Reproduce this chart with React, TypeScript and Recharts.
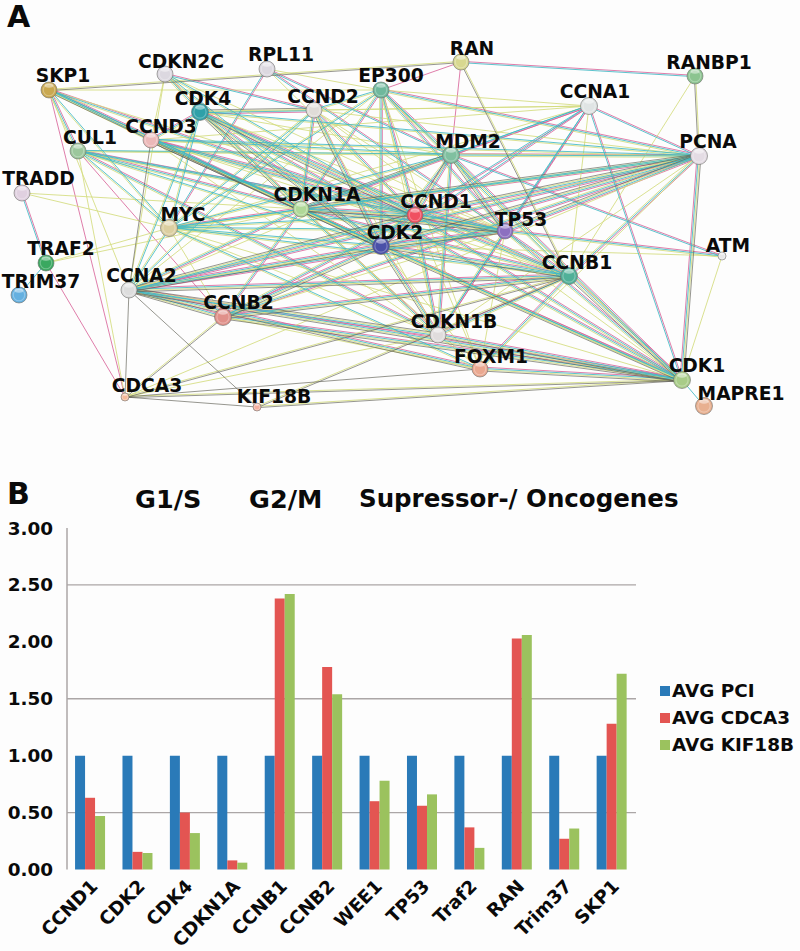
import React from 'react';
import {
  Bar, BarChart, CartesianGrid, ComposedChart, Legend, Line, Scatter, XAxis, YAxis,
} from 'recharts';

// Panel A: node positions
const nodeNames = ['SKP1', 'CDKN2C', 'RPL11', 'EP300', 'CDK4', 'CCND2', 'CCND3', 'CUL1', 'TRADD', 'CDKN1A', 'MYC', 'TRAF2', 'TRIM37', 'CCNA2', 'CCNB2', 'CDCA3', 'KIF18B', 'CDK2', 'RAN', 'RANBP1', 'CCNA1', 'MDM2', 'PCNA', 'CCND1', 'TP53', 'ATM', 'CCNB1', 'CDKN1B', 'FOXM1', 'CDK1', 'MAPRE1'];
const nodeX = [49, 165, 267, 381, 200, 314, 151, 78, 22, 301, 169, 46, 19, 129, 223, 125, 257, 381, 461, 695, 589, 451, 699, 415, 505, 722, 569, 438, 480, 682, 704];
const nodeY = [90, 74, 69, 90, 112, 110, 140, 151, 193, 209, 228, 263, 295, 290, 317, 397, 407, 246, 62, 76, 106, 155, 156, 215, 231, 256, 276, 335, 369, 380, 406];

const nodeColors = ['#c9a850', '#dcd8e0', '#dcd8e0', '#6fb89c', '#2fa0a8', '#e0dcd8', '#ecb8b8', '#9cc79c', '#e0d0e0', '#b0d898', '#dccfa0', '#3aa860', '#64b0e0', '#dddddd', '#e0908a', '#f5b898', '#f5b0a0', '#4a50a8', '#d8d890', '#8cc490', '#e0e4e4', '#80c0a0', '#e4dce4', '#f05060', '#8c70c0', '#e8e8e8', '#50b098', '#e0dcdc', '#eaa890', '#a8cc88', '#e8b090'];
const nodeRadius = [8, 8, 8, 8, 8.5, 8, 8, 8, 8, 8, 8.5, 8, 8, 8, 8.5, 4, 4, 8.5, 8, 8, 8.5, 8.5, 8.5, 8, 8, 4, 8.5, 8, 8, 8.5, 8.5];
// label centre and baseline
const labelX = [63, 181, 281, 391, 203, 323, 161, 90, 38.5, 317, 183, 61, 41, 141.5, 238.5, 147, 274, 395, 472, 709, 595, 468, 708, 436, 521, 728, 577, 454, 491, 697, 741];
const labelY = [82, 68, 61, 82, 105, 103, 133, 144, 185, 201, 221, 255, 288, 282, 309, 392, 403, 239, 55, 69, 98, 148, 148, 208, 226, 252, 269, 328, 363, 372, 400];

// Edges grouped by how many evidence strands they show
const heavyEdges = ['CCNA2-CDK2', 'CCNA2-CCNB1', 'CCNA2-CDK1', 'CCNA2-CCNB2', 'CCNB2-CDK1', 'CCNB2-CCNB1', 'CDK2-CCNB1', 'CCNB1-CDK1', 'CDK2-CDK1', 'PCNA-CDK2', 'PCNA-CCND1', 'PCNA-TP53', 'CDK4-CCND1', 'CDK4-CDK2', 'CDK4-CDKN1A', 'CCND3-CDK2', 'CCND3-CDKN1A', 'CDKN1A-CDK2', 'CDKN1A-CCND1', 'CDK2-CCND1', 'CDKN1A-TP53', 'MDM2-TP53', 'MDM2-CDKN1A', 'CCND2-CDK2', 'CCND2-CDK4', 'CDK2-CDKN1B', 'CDKN1B-CCNA2', 'CDKN1B-CDK1', 'CCNA2-FOXM1', 'FOXM1-CDK1', 'PCNA-CDKN1A', 'CDK1-PCNA', 'CCND1-CCNA2', 'CCNB2-CDK2', 'CDK2-TP53', 'CCND1-TP53', 'MDM2-CCND1', 'SKP1-CDKN1A'];
const mediumEdges = ['SKP1-CUL1', 'SKP1-CCND3', 'SKP1-CCND1', 'CUL1-CDKN1A', 'CUL1-CDKN1B', 'CUL1-CCND1', 'CDKN2C-CDK4', 'CDK4-CDK1', 'CDK4-CCNB1', 'CCND2-CDKN1A', 'CCND2-CCND1', 'CCND3-CDK4', 'CCND3-CCND1', 'CCND3-TP53', 'EP300-MDM2', 'EP300-TP53', 'EP300-CDKN1A', 'EP300-CCND1', 'EP300-CDK2', 'EP300-PCNA', 'MYC-CDKN1A', 'MDM2-CDK2', 'MDM2-CDKN1B', 'MDM2-PCNA', 'MDM2-CDK1', 'TP53-CCNB1', 'TP53-CDK1', 'TP53-CCNA2', 'TP53-CDKN1B', 'TP53-ATM', 'CCND1-CCNB1', 'CCND1-CDK1', 'CCND1-CDKN1B', 'CCND1-CCNB2', 'CDKN1A-CCNB1', 'CDKN1A-CDK1', 'CDKN1A-CDKN1B', 'CDKN1A-CCNA2', 'CDKN1A-CCNB2', 'CDKN1B-CCNB1', 'PCNA-CCNB1', 'PCNA-CCNA2', 'PCNA-CCNB2', 'FOXM1-CCNB1'];
const tealYellowEdges = ['SKP1-CDK2', 'SKP1-MYC', 'CUL1-MDM2', 'CUL1-TP53', 'CUL1-CDK2', 'CUL1-MYC', 'CDKN2C-CDK2', 'CDKN2C-CCND1', 'CDK4-MYC', 'CDK4-CCNA2', 'CDK4-PCNA', 'CCND2-MYC', 'CCND2-CCNA2', 'CCND2-EP300', 'CCND3-MDM2', 'CCND3-PCNA', 'EP300-MYC', 'EP300-CCNB1', 'MYC-CDK2', 'MYC-CCND1', 'MYC-TP53', 'MYC-MDM2', 'MYC-CCNA2', 'MYC-CCNB1', 'MYC-PCNA', 'MYC-FOXM1'];
const pinkTealEdges = ['TRADD-TRAF2', 'RAN-RANBP1', 'RPL11-MDM2', 'RPL11-TP53', 'RPL11-MYC', 'CCNA1-PCNA', 'CCNA1-CDK1', 'CCNA1-CDK2', 'CCNA1-CCND1', 'CCNA1-TP53', 'CCNA1-MDM2', 'CCNA1-CDKN1A', 'MDM2-ATM', 'CDKN2C-CCND2', 'CCNA1-CDKN1B'];
const yellowEdges = ['TRADD-MYC', 'TRAF2-MYC', 'TRAF2-CDKN1A', 'TRADD-CDKN1A', 'RPL11-CCND1', 'RPL11-EP300', 'CCNA1-CCND3', 'CCNA1-CDK4', 'CCNA1-CCND2', 'CCNA1-MYC', 'CCNA1-EP300', 'CCNA1-CCNB1', 'CDK2-ATM', 'ATM-CDK1', 'RANBP1-CCNB1', 'SKP1-EP300', 'CDKN1B-CDCA3', 'CUL1-PCNA', 'CDKN2C-CCND3', 'CDKN2C-CCNA2', 'SKP1-CCNA2', 'CUL1-CDCA3', 'SKP1-TP53', 'MYC-CCNB2', 'PCNA-CDCA3', 'CCND2-PCNA', 'CCND2-CDK1', 'EP300-FOXM1', 'EP300-CDK1', 'EP300-CDKN1B', 'EP300-CCNA2', 'MYC-CDK1', 'CDK4-CDKN1B', 'CCND3-CCNB1', 'CCND3-CDK1', 'CCND3-CDKN1B', 'TP53-FOXM1', 'TP53-CCNB2', 'CDKN2C-TP53', 'CDKN1B-PCNA', 'CCND1-FOXM1', 'MDM2-CCNB1', 'MDM2-CCNA2', 'PCNA-FOXM1', 'MYC-CDKN1B', 'CDKN2C-CDKN1A', 'CDKN1A-FOXM1', 'FOXM1-CDK2', 'CDKN1B-FOXM1', 'CCNB2-FOXM1', 'CCND2-CDKN1B', 'CCND2-TP53', 'CDK4-TP53', 'CDK4-MDM2'];
const darkYellowEdges = ['SKP1-RAN', 'RAN-CCNB1', 'RANBP1-PCNA', 'CDCA3-CCNB2', 'CDCA3-CCNB1', 'CDCA3-CDK1', 'KIF18B-CCNB1', 'KIF18B-CDK1'];
const darkEdges = ['CCND3-CCNA2', 'CCNA2-CDCA3', 'CCNA2-KIF18B', 'CDCA3-KIF18B', 'CDCA3-FOXM1'];
const pinkEdges = ['RAN-EP300', 'RAN-MDM2', 'SKP1-CDCA3', 'TRAF2-CDCA3', 'CUL1-CCNB2'];
const tealEdges = ['CDK1-MAPRE1', 'TRAF2-TRIM37'];

const strandGap = 1.3;
const strandColors: Record<string, string> = {
  pink: '#d9669b',
  yellow: '#d3dc7e',
  teal: '#3fb8c4',
  dark: '#5f5f55',
};

const edgeGroups: [string[], string[]][] = [
  [heavyEdges, ['pink', 'teal', 'yellow', 'dark']],
  [mediumEdges, ['pink', 'teal', 'yellow']],
  [tealYellowEdges, ['teal', 'yellow']],
  [pinkTealEdges, ['pink', 'teal']],
  [yellowEdges, ['yellow']],
  [darkYellowEdges, ['yellow', 'dark']],
  [darkEdges, ['dark']],
  [pinkEdges, ['pink']],
  [tealEdges, ['teal']],
];

// One path per strand colour, with a null point between edges to break it
const buildStrand = (color: string) => {
  const points: { x: number; y: number | null }[] = [];
  edgeGroups.forEach(([edges, strands]) => {
    const slot = strands.indexOf(color);
    if (slot < 0) return;
    edges.forEach((edge) => {
      const [a, b] = edge.split('-').map((n) => nodeNames.indexOf(n));
      const dx = nodeX[b] - nodeX[a];
      const dy = nodeY[b] - nodeY[a];
      const len = Math.hypot(dx, dy);
      const off = (slot - (strands.length - 1) / 2) * strandGap;
      const ox = (-dy / len) * off;
      const oy = (dx / len) * off;
      points.push({ x: nodeX[a] + ox, y: nodeY[a] + oy });
      points.push({ x: nodeX[b] + ox, y: nodeY[b] + oy });
      points.push({ x: nodeX[b], y: null });
    });
  });
  return points;
};

const nodes = nodeNames.map((name, i) => ({
  name, x: nodeX[i], y: nodeY[i], color: nodeColors[i], r: nodeRadius[i],
}));
const labels = nodeNames.map((name, i) => ({ name, x: labelX[i], y: labelY[i] }));

// Panel B
const categories = ['CCND1', 'CDK2', 'CDK4', 'CDKN1A', 'CCNB1', 'CCNB2', 'WEE1', 'TP53', 'Traf2', 'RAN', 'Trim37', 'SKP1'];
const avgPci = [1, 1, 1, 1, 1, 1, 1, 1, 1, 1, 1, 1];
const avgCdca3 = [0.63, 0.155, 0.5, 0.08, 2.38, 1.78, 0.6, 0.56, 0.37, 2.03, 0.27, 1.28];
const avgKif18b = [0.47, 0.145, 0.32, 0.06, 2.42, 1.54, 0.78, 0.66, 0.19, 2.06, 0.36, 1.72];
const yTicks = [0, 0.5, 1, 1.5, 2, 2.5, 3];
const gridValues = [0.5, 1.5, 2.5];

const barData = categories.map((name, i) => ({
  name, pci: avgPci[i], cdca3: avgCdca3[i], kif18b: avgKif18b[i],
}));

const FONT = '"DejaVu Sans", sans-serif';
const GREY = '#aba6a6';

const NodeShape = (props: any) => {
  const { cx, cy, payload } = props;
  const r = payload.r;
  return (
    <g>
      <circle cx={cx} cy={cy} r={r} fill={payload.color} stroke="#6e6e6a" strokeOpacity={0.6} strokeWidth={1} />
      <circle cx={cx} cy={cy} r={r * 0.72} fill="none" stroke="#ffffff" strokeOpacity={0.28} strokeWidth={1.2} />
      <ellipse cx={cx} cy={cy - r * 0.55} rx={r * 0.55} ry={r * 0.28} fill="#ffffff" fillOpacity={0.45} />
    </g>
  );
};

const LabelShape = (props: any) => {
  const { cx, cy, payload } = props;
  return (
    <text x={cx} y={cy} textAnchor="middle" fontFamily={FONT} fontWeight={700} fontSize={18.7} fill="#0a0a0a">
      {payload.name}
    </text>
  );
};

const CategoryTick = (props: any) => {
  const { x, y, payload } = props;
  return (
    <g transform={`translate(${x + 8},${y + 10}) rotate(-45)`}>
      <text textAnchor="end" fontFamily={FONT} fontWeight={700} fontSize={18.4} fill="#0a0a0a">
        {payload.value}
      </text>
    </g>
  );
};

const LegendContent = ({ payload }: any) => (
  <div style={{ fontFamily: FONT, fontWeight: 700, fontSize: 18.4, color: '#0a0a0a' }}>
    {(payload || []).map((item: any) => (
      <div key={item.value} style={{ display: 'flex', alignItems: 'center', height: 27, whiteSpace: 'nowrap' }}>
        <span style={{ width: 10, height: 10, background: item.color, marginRight: 2, display: 'inline-block' }} />
        {item.value}
      </div>
    ))}
  </div>
);

const heading = (text: string, left: number, top: number, fontSize: number) => (
  <div
    style={{
      position: 'absolute', left, top, fontFamily: FONT, fontWeight: 700, fontSize, lineHeight: 1, color: '#0a0a0a', whiteSpace: 'nowrap',
    }}
  >
    {text}
  </div>
);

const App = () => (
  <div style={{ position: 'absolute', left: 0, top: 0, width: 800, height: 951, background: '#fdfdfd', overflow: 'hidden' }}>
    <div style={{ position: 'absolute', left: 0, top: 0 }}>
      <ComposedChart width={800} height={450} margin={{ top: 0, right: 0, bottom: 0, left: 0 }}>
        <XAxis type="number" dataKey="x" domain={[0, 800]} hide allowDataOverflow />
        <YAxis type="number" dataKey="y" domain={[0, 450]} reversed hide allowDataOverflow />
        {Object.keys(strandColors).map((color) => (
          <Line
            key={color}
            data={buildStrand(color)}
            dataKey="y"
            stroke={strandColors[color]}
            strokeWidth={1}
            strokeOpacity={color === 'dark' ? 0.65 : 0.85}
            dot={false}
            activeDot={false}
            connectNulls={false}
            legendType="none"
            isAnimationActive={false}
          />
        ))}
        <Scatter data={nodes} shape={NodeShape} isAnimationActive={false} />
        <Scatter data={labels} shape={LabelShape} isAnimationActive={false} />
      </ComposedChart>
    </div>

    <div style={{ position: 'absolute', left: 0, top: 500 }}>
      <BarChart
        width={800}
        height={451}
        data={barData}
        margin={{ top: 28, right: 164, bottom: 0, left: 0 }}
        barCategoryGap="17%"
        barGap={0}
      >
        <CartesianGrid vertical={false} horizontalValues={gridValues} stroke={GREY} strokeWidth={1.3} />
        <XAxis dataKey="name" axisLine={false} tickLine={false} interval={0} height={81.5} tick={CategoryTick} />
        <YAxis
          width={67}
          domain={[0, 3]}
          ticks={yTicks}
          interval={0}
          tickFormatter={(v: number) => v.toFixed(2)}
          tickLine={false}
          tickMargin={8}
          axisLine={{ stroke: GREY, strokeWidth: 1.5 }}
          tick={{ fontFamily: FONT, fontWeight: 700, fontSize: 18.4, fill: '#0a0a0a' }}
        />
        <Bar dataKey="pci" name="AVG PCI" fill="#2a7ab8" isAnimationActive={false} />
        <Bar dataKey="cdca3" name="AVG CDCA3" fill="#e35552" isAnimationActive={false} />
        <Bar dataKey="kif18b" name="AVG KIF18B" fill="#9bc25e" isAnimationActive={false} />
        <Legend
          layout="vertical"
          align="center"
          verticalAlign="middle"
          itemSorter={null}
          wrapperStyle={{ left: 660, top: 177, width: 140 }}
          content={LegendContent}
        />
      </BarChart>
    </div>

    {heading('A', 7, 2, 30)}
    {heading('B', 7, 479, 30)}
    {heading('G1/S', 135, 487, 25.5)}
    {heading('G2/M', 249, 487, 25.5)}
    {heading('Supressor-/ Oncogenes', 359, 487, 24.5)}
  </div>
);

export default App;
